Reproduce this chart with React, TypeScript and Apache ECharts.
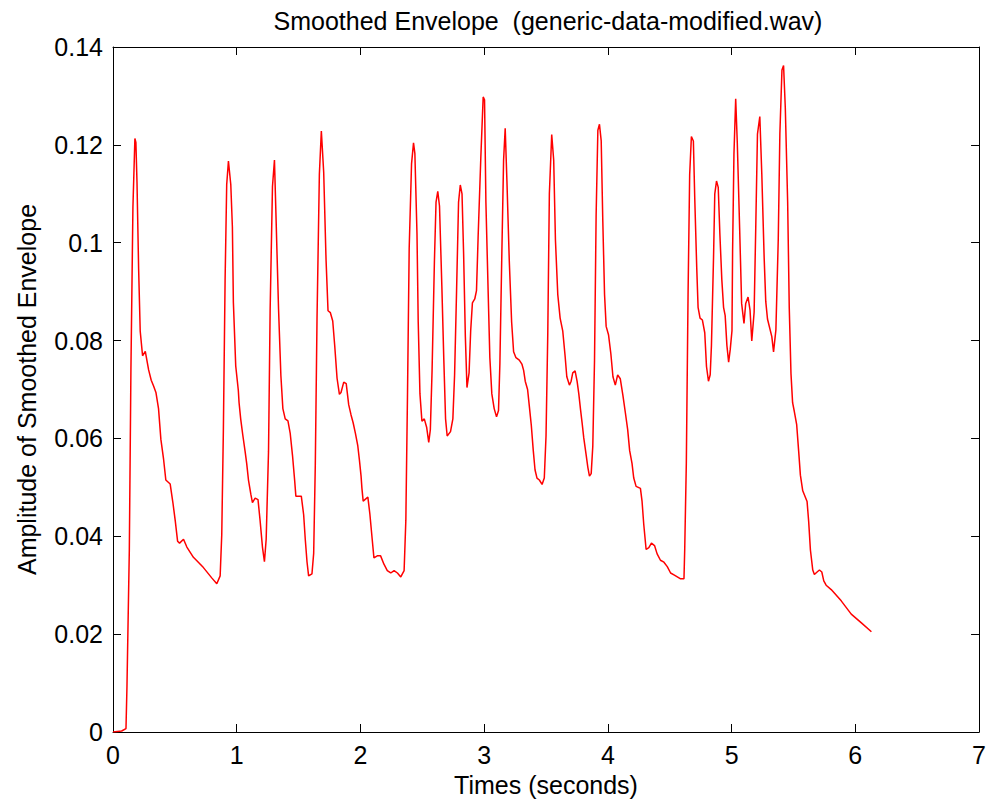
import React, { useEffect, useRef } from "react";
import * as echarts from "echarts";

const titleText = "Smoothed Envelope  (generic-data-modified.wav)";
const xAxisTitle = "Times (seconds)";
const yAxisTitle = "Amplitude of Smoothed Envelope";
const xTickLabels = ["0", "1", "2", "3", "4", "5", "6", "7"];
const yTickLabels = ["0", "0.02", "0.04", "0.06", "0.08", "0.1", "0.12", "0.14"];

const times = [
  0, 0.07, 0.105, 0.113, 0.132, 0.145, 0.161, 0.177, 0.185, 0.194, 0.207, 0.22, 0.239, 0.261, 0.288, 0.309, 0.328, 0.347, 0.368, 0.387, 0.409, 0.427, 0.462, 0.484, 0.503, 0.522, 0.538, 0.57, 0.597, 0.65, 0.731, 0.798, 0.839, 0.866, 0.879, 0.892, 0.906, 0.919, 0.933, 0.952, 0.965, 0.973, 0.992, 1.013,
  1.019, 1.032, 1.049, 1.068, 1.081, 1.095, 1.114, 1.127, 1.149, 1.172, 1.189, 1.208, 1.224, 1.238, 1.257, 1.27, 1.289, 1.305, 1.319, 1.338, 1.357, 1.373, 1.392, 1.414, 1.432, 1.451, 1.468, 1.478, 1.522, 1.541, 1.554, 1.568, 1.581, 1.608, 1.622, 1.635, 1.649, 1.668, 1.684, 1.703, 1.722, 1.738, 1.757, 1.776, 1.792, 1.811, 1.83, 1.843, 1.865, 1.885, 1.905, 1.924, 1.941, 1.959, 1.978, 1.992,
  2.005, 2.012, 2.022, 2.041, 2.06, 2.076, 2.095, 2.109, 2.136, 2.163, 2.19, 2.217, 2.245, 2.272, 2.299, 2.326, 2.353, 2.367, 2.38, 2.394, 2.413, 2.429, 2.44, 2.457, 2.467, 2.481, 2.497, 2.516, 2.535, 2.552, 2.565, 2.579, 2.598, 2.611, 2.625, 2.639, 2.658, 2.674, 2.688, 2.701, 2.728, 2.747, 2.761, 2.777, 2.793, 2.807, 2.821, 2.834, 2.848, 2.861, 2.878, 2.891, 2.905, 2.924, 2.938, 2.951, 2.973, 2.992, 3.003,
  3.014, 3.032, 3.046, 3.062, 3.081, 3.1, 3.116, 3.127, 3.143, 3.157, 3.17, 3.184, 3.203, 3.222, 3.238, 3.257, 3.284, 3.305, 3.319, 3.332, 3.351, 3.365, 3.381, 3.397, 3.411, 3.427, 3.446, 3.468, 3.486, 3.5, 3.514, 3.527, 3.546, 3.562, 3.576, 3.595, 3.614, 3.635, 3.654, 3.668, 3.689, 3.703, 3.716, 3.735, 3.751, 3.765, 3.778, 3.792, 3.805, 3.824, 3.838, 3.851, 3.865, 3.878, 3.892, 3.905, 3.919, 3.932, 3.946, 3.959, 3.973, 3.986, 4.005,
  4.024, 4.041, 4.06, 4.079, 4.1, 4.122, 4.141, 4.16, 4.176, 4.195, 4.209, 4.228, 4.263, 4.276, 4.29, 4.309, 4.331, 4.352, 4.377, 4.398, 4.425, 4.453, 4.48, 4.507, 4.534, 4.561, 4.588, 4.615, 4.621, 4.634, 4.648, 4.661, 4.675, 4.691, 4.702, 4.718, 4.729, 4.745, 4.764, 4.783, 4.797, 4.813, 4.827, 4.837, 4.854, 4.864, 4.878, 4.892, 4.905, 4.921, 4.935, 4.948, 4.962, 4.976, 4.989, 5.003,
  5.008, 5.019, 5.033, 5.046, 5.065, 5.081, 5.1, 5.114, 5.133, 5.149, 5.163, 5.182, 5.195, 5.209, 5.228, 5.244, 5.263, 5.276, 5.29, 5.325, 5.339, 5.358, 5.377, 5.39, 5.407, 5.42, 5.434, 5.453, 5.466, 5.48, 5.493, 5.507, 5.526, 5.542, 5.556, 5.575, 5.61, 5.623, 5.637, 5.656, 5.669, 5.691, 5.71, 5.729, 5.745, 5.764, 5.805, 5.886, 5.967, 6.049, 6.13,
];

const amplitudes = [
  0, 0.0002, 0.0007, 0.0094, 0.0373, 0.0744, 0.1072, 0.1213, 0.1205, 0.1123, 0.0948, 0.0819, 0.0769, 0.0778, 0.074, 0.0719, 0.0707, 0.0694, 0.0661, 0.0598, 0.0557, 0.0515, 0.0507, 0.0469, 0.0432, 0.039, 0.0386, 0.0394, 0.0378, 0.0357, 0.0336, 0.0315, 0.0303, 0.0319, 0.0403, 0.0615, 0.0923, 0.1119, 0.1167, 0.1119, 0.1032, 0.0878, 0.0748, 0.0698,
  0.0673, 0.064, 0.0607, 0.0573, 0.0548, 0.0515, 0.0486, 0.0469, 0.0478, 0.0475, 0.0432, 0.0378, 0.0348, 0.0394, 0.0573, 0.0861, 0.1115, 0.1169, 0.104, 0.0865, 0.0728, 0.0661, 0.064, 0.0636, 0.0611, 0.0565, 0.0515, 0.0482, 0.0482, 0.0444, 0.0394, 0.0348, 0.0319, 0.0323, 0.0365, 0.0544, 0.0844, 0.114, 0.1228, 0.1144, 0.0965, 0.0861, 0.0857, 0.084, 0.079, 0.0723, 0.069, 0.0694, 0.0715, 0.0712, 0.0669, 0.0648, 0.0632, 0.0611, 0.0586, 0.0555,
  0.0523, 0.0498, 0.0472, 0.0476, 0.048, 0.0446, 0.0394, 0.0356, 0.036, 0.036, 0.0343, 0.033, 0.0325, 0.033, 0.0325, 0.0317, 0.033, 0.0433, 0.0683, 0.0988, 0.1161, 0.1204, 0.1182, 0.1019, 0.0838, 0.0691, 0.0635, 0.064, 0.0623, 0.0592, 0.0618, 0.0739, 0.0963, 0.1083, 0.1105, 0.1075, 0.0911, 0.076, 0.064, 0.0605, 0.0614, 0.064, 0.073, 0.0902, 0.1083, 0.1118, 0.11, 0.0976, 0.0808, 0.0704, 0.0734, 0.082, 0.0877, 0.0885, 0.0902, 0.101, 0.1174, 0.1298, 0.1292,
  0.1083, 0.0902, 0.0765, 0.0691, 0.0661, 0.0644, 0.0657, 0.0752, 0.098, 0.1169, 0.1234, 0.1126, 0.0963, 0.0838, 0.0777, 0.0765, 0.076, 0.0752, 0.0739, 0.0717, 0.07, 0.0666, 0.0627, 0.0575, 0.0536, 0.0519, 0.0515, 0.0506, 0.0519, 0.0605, 0.0812, 0.11, 0.1221, 0.1169, 0.1006, 0.0894, 0.0846, 0.082, 0.0769, 0.0726, 0.0709, 0.0717, 0.0734, 0.0738, 0.0717, 0.0691, 0.0661, 0.0631, 0.0601, 0.0567, 0.0541, 0.0523, 0.0528, 0.0584, 0.076, 0.1057, 0.123, 0.1242, 0.1208, 0.1044, 0.0894, 0.0829, 0.0812,
  0.0773, 0.0726, 0.0709, 0.073, 0.0722, 0.0687, 0.0653, 0.0618, 0.0575, 0.0549, 0.0519, 0.0502, 0.0498, 0.0472, 0.0424, 0.0373, 0.0377, 0.0386, 0.0381, 0.0364, 0.0351, 0.0347, 0.0338, 0.0325, 0.0321, 0.0317, 0.0313, 0.0313, 0.0373, 0.0549, 0.0894, 0.1139, 0.1217, 0.1208, 0.1092, 0.095, 0.0868, 0.0846, 0.0842, 0.0816, 0.0747, 0.0717, 0.073, 0.079, 0.0971, 0.11, 0.1126, 0.1113, 0.1019, 0.0924, 0.0868, 0.0851, 0.079, 0.0756, 0.0782, 0.082,
  0.0984, 0.1182, 0.1294, 0.1204, 0.1029, 0.0876, 0.0835, 0.0876, 0.0889, 0.0862, 0.0799, 0.0858, 0.1029, 0.1222, 0.1258, 0.1141, 0.097, 0.088, 0.0844, 0.0808, 0.0777, 0.0822, 0.1006, 0.1222, 0.1353, 0.1362, 0.1276, 0.1083, 0.0867, 0.0732, 0.0673, 0.0655, 0.0628, 0.0574, 0.0525, 0.0493, 0.0471, 0.043, 0.0372, 0.0331, 0.0322, 0.0327, 0.0331, 0.0327, 0.0309, 0.03, 0.0291, 0.0268, 0.0241, 0.0223, 0.0205,
];

const FONT = "'Liberation Sans', Arial, Helvetica, sans-serif";
const FS = 25;

export default function App() {
  const ref = useRef<HTMLDivElement | null>(null);

  useEffect(() => {
    if (!ref.current) return;
    const chart = echarts.init(ref.current, undefined, { renderer: "svg" });
    const data = times.map((t, i) => [t, amplitudes[i]]);
    const axisLine = { show: true, onZero: false, lineStyle: { color: "#000", width: 1 } };
    const tick = { show: true, inside: true, length: 8, lineStyle: { color: "#000", width: 1 } };
    const xCommon = { type: "value", min: 0, max: 7, interval: 1, splitLine: { show: false }, axisLine, axisTick: tick };
    const yCommon = { type: "value", min: 0, max: 0.14, interval: 0.02, splitLine: { show: false }, axisLine, axisTick: tick };
    chart.setOption({
      animation: false,
      backgroundColor: "#ffffff",
      title: {
        text: titleText,
        left: 543,
        top: 3,
        textAlign: "center",
        textStyle: { fontSize: FS, fontWeight: "normal", color: "#000", fontFamily: FONT },
      },
      grid: { left: 113, right: 4, top: 47, bottom: 73, containLabel: false },
      xAxis: [
        {
          ...xCommon,
          position: "bottom",
          name: xAxisTitle,
          nameLocation: "middle",
          nameGap: 40,
          nameTextStyle: { fontSize: FS, color: "#000", fontFamily: FONT },
          axisLabel: {
            show: true,
            margin: 10,
            color: "#000",
            fontSize: FS,
            fontFamily: FONT,
            formatter: (v: number) => xTickLabels[Math.round(v)] ?? "",
          },
        },
        { ...xCommon, position: "top", axisLabel: { show: false } },
      ],
      yAxis: [
        {
          ...yCommon,
          position: "left",
          name: yAxisTitle,
          nameLocation: "middle",
          nameGap: 74,
          nameTextStyle: { fontSize: FS, color: "#000", fontFamily: FONT },
          axisLabel: {
            show: true,
            margin: 10,
            color: "#000",
            fontSize: FS,
            fontFamily: FONT,
            formatter: (v: number) => yTickLabels[Math.round(v / 0.02)] ?? "",
          },
        },
        { ...yCommon, position: "right", axisLabel: { show: false } },
      ],
      series: [
        {
          type: "line",
          xAxisIndex: 0,
          yAxisIndex: 0,
          data,
          showSymbol: false,
          symbol: "none",
          lineStyle: { color: "#ff0000", width: 1.5 },
          itemStyle: { color: "#ff0000" },
        },
      ],
    });
    return () => chart.dispose();
  }, []);

  return (
    <div
      ref={ref}
      style={{ position: "absolute", left: 0, top: 0, width: 989, height: 805, background: "#fff" }}
    />
  );
}
